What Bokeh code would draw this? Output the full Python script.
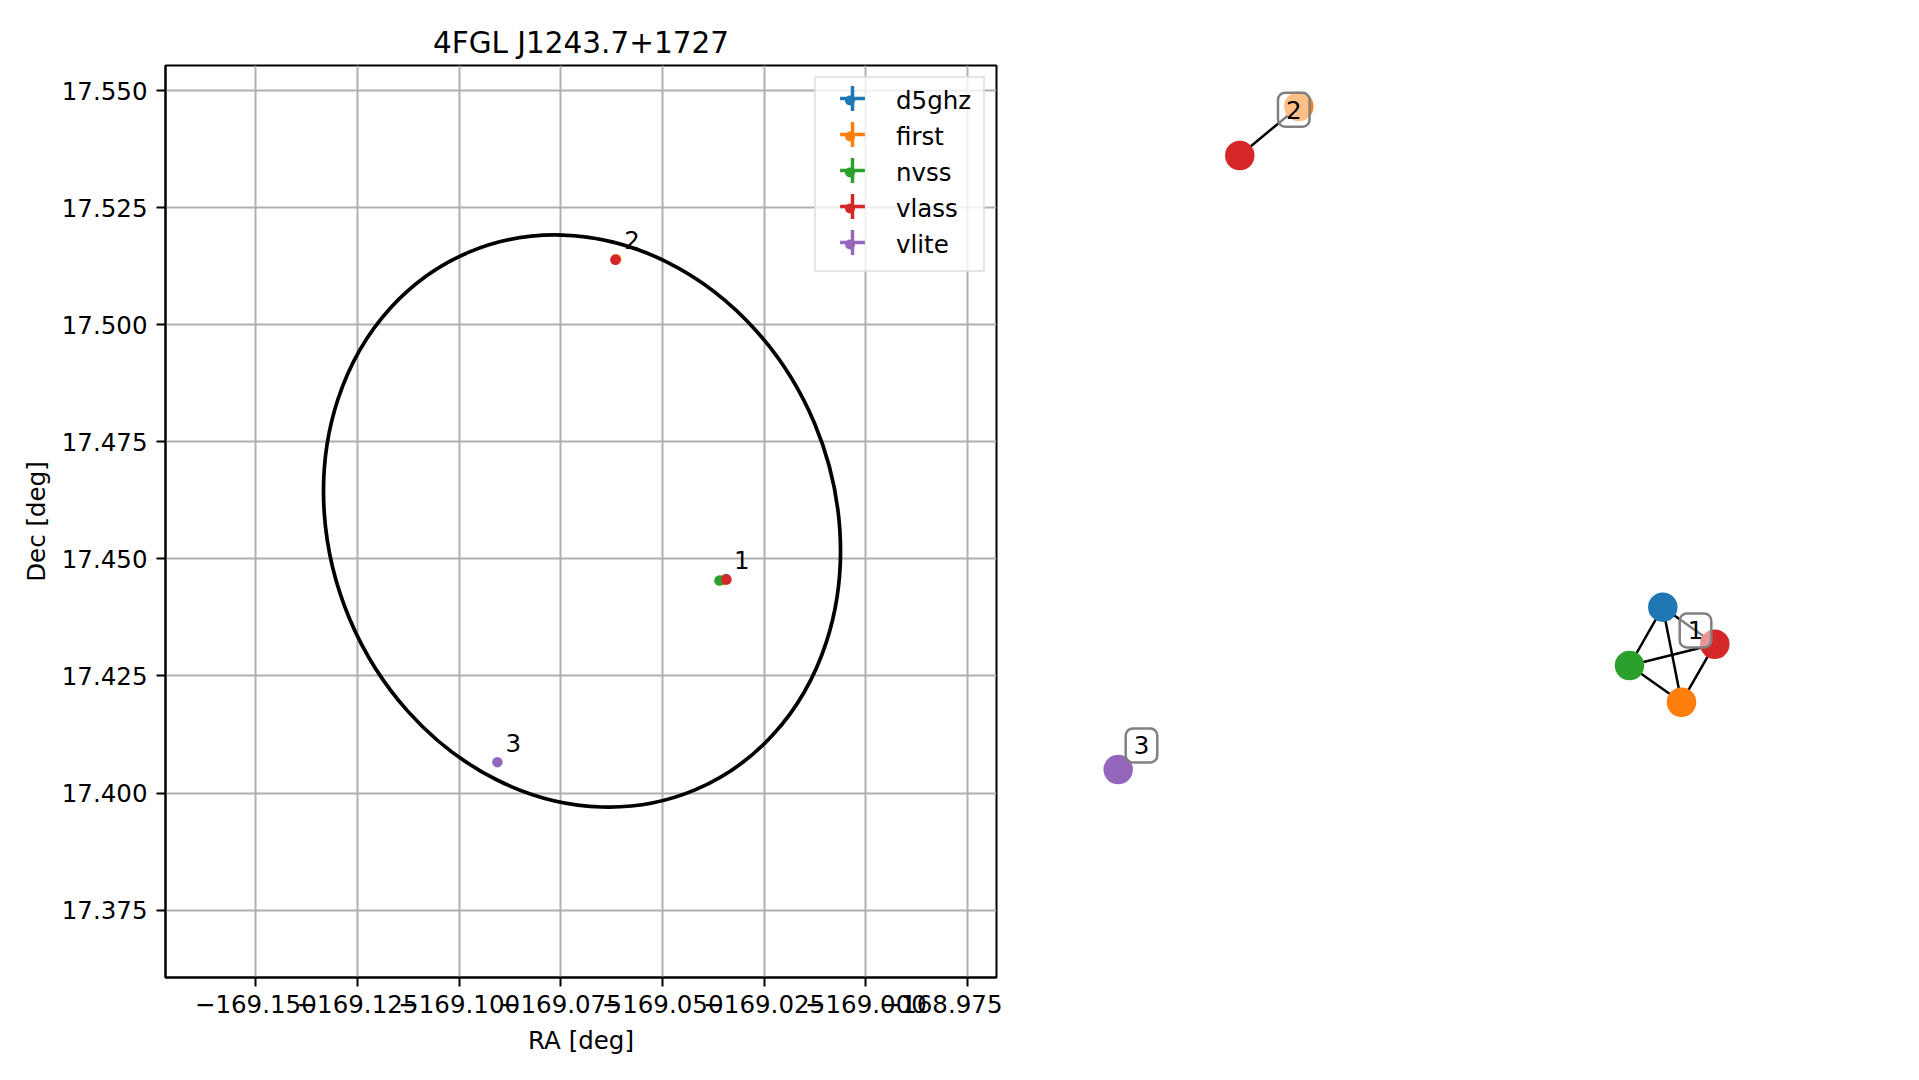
from bokeh.plotting import figure
from bokeh.layouts import row
from bokeh.models import ColumnDataSource, FixedTicker, Legend, LegendItem, Range1d
from bokeh.core.properties import value
from bokeh.embed import file_html
from bokeh.resources import INLINE

FONT = "DejaVu Sans"

title = "4FGL J1243.7+1727"
surveys = ["d5ghz", "first", "nvss", "vlass", "vlite"]
survey_colors = ["#1f77b4", "#ff7f0e", "#2ca02c", "#d62728", "#9467bd"]

# radio detections (RA, Dec in deg) and the association group they belong to
det_survey = ["d5ghz", "first", "nvss", "vlass", "first", "vlass", "vlite"]
det_group = ["1", "1", "1", "1", "2", "2", "3"]
det_ra = [-169.0344, -169.0350, -169.0360, -169.0343, -169.0614, -169.0616, -169.0906]
det_dec = [17.4457, 17.4455, 17.4454, 17.4456, 17.5140, 17.5139, 17.4066]

# Fermi-LAT 95% ellipse
ell_ra = [-169.0698]
ell_dec = [17.4581]
ell_width = [0.1240]
ell_height = [0.1246]
ell_angle = [22.8]

x_ticks = [-169.150, -169.125, -169.100, -169.075, -169.050, -169.025, -169.000, -168.975]
x_tick_labels = ["\u2212169.150", "\u2212169.125", "\u2212169.100", "\u2212169.075",
                 "\u2212169.050", "\u2212169.025", "\u2212169.000", "\u2212168.975"]
y_ticks = [17.375, 17.400, 17.425, 17.450, 17.475, 17.500, 17.525, 17.550]
y_tick_labels = ["17.375", "17.400", "17.425", "17.450", "17.475", "17.500", "17.525", "17.550"]
x_lim = (-169.1722, -168.9679)
y_lim = (17.3606, 17.5554)

# association network (layout coordinates)
node_survey = ["d5ghz", "vlass", "nvss", "first", "vlass", "first", "vlite"]
node_x = [0.5558, 0.6858, 0.4725, 0.6025, -0.5018, -0.3543, -0.8058]
node_y = [-0.1879, -0.2691, -0.3158, -0.3963, 0.8026, 0.9101, -0.5439]
edge_from = [0, 0, 0, 1, 1, 2, 4]
edge_to = [1, 2, 3, 2, 3, 3, 5]
net_labels = ["1", "2", "3"]
net_label_x = [0.6375, -0.3668, -0.7475]
net_label_y = [-0.2390, 0.9029, -0.4912]

color_of = dict(zip(surveys, survey_colors))

# ---------------- left panel ----------------
FRAME_L, FRAME_T, FRAME_W, FRAME_H = 165, 65, 831, 912
P1_W, P_H = 1002, 1064
p1 = figure(width=P1_W, height=P_H, x_range=Range1d(*x_lim), y_range=Range1d(*y_lim),
            output_backend="svg", toolbar_location=None, title=title,
            min_border_left=FRAME_L, min_border_right=P1_W - FRAME_L - FRAME_W,
            min_border_top=FRAME_T, min_border_bottom=P_H - FRAME_T - FRAME_H)
p1.background_fill_color = "white"
p1.border_fill_color = "white"
p1.outline_line_color = "black"
p1.outline_line_width = 2

p1.title.align = "center"
p1.title.text_font = FONT
p1.title.text_font_size = "29.5px"
p1.title.text_font_style = "normal"
p1.title.text_color = "black"
p1.title.standoff = 12

p1.xaxis.ticker = FixedTicker(ticks=x_ticks)
p1.yaxis.ticker = FixedTicker(ticks=y_ticks)
p1.xaxis.major_label_overrides = dict(zip(x_ticks, x_tick_labels))
p1.yaxis.major_label_overrides = dict(zip(y_ticks, y_tick_labels))
p1.xaxis.axis_label = "RA [deg]"
p1.yaxis.axis_label = "Dec [deg]"
for ax in (p1.xaxis[0], p1.yaxis[0]):
    ax.axis_label_text_font = FONT
    ax.axis_label_text_font_size = "24.5px"
    ax.axis_label_text_font_style = "normal"
    ax.axis_label_text_color = "black"
    ax.major_label_text_font = FONT
    ax.major_label_text_font_size = "24.5px"
    ax.major_label_text_color = "black"
    ax.major_tick_out = 9
    ax.major_tick_in = 0
    ax.major_tick_line_width = 2
    ax.major_tick_line_color = "black"
    ax.minor_tick_line_color = None
    ax.axis_line_color = "black"
    ax.axis_line_width = 2
p1.xaxis.major_label_standoff = 8
p1.yaxis.major_label_standoff = 9
p1.xaxis.axis_label_standoff = 10
p1.yaxis.axis_label_standoff = 8
p1.grid.grid_line_color = "#b0b0b0"
p1.grid.grid_line_width = 2

p1.ellipse(x=ell_ra, y=ell_dec, width=ell_width, height=ell_height, angle=ell_angle,
           angle_units="deg", fill_color=None, line_color="black", line_width=3.7)

dot_renderers = []
err_renderers = []
for s in surveys:
    idx = [i for i, v in enumerate(det_survey) if v == s]
    src = ColumnDataSource(dict(x=[det_ra[i] for i in idx], y=[det_dec[i] for i in idx]))
    err = p1.scatter("x", "y", source=src, marker="cross", size=5,
                     line_color=color_of[s], line_width=3.5)
    pt = p1.scatter("x", "y", source=src, marker="circle", size=10.5,
                    line_color=None, fill_color=color_of[s])
    err_renderers.append(err)
    dot_renderers.append(pt)

groups = []
for g in det_group:
    if g not in groups:
        groups.append(g)
anchor_x = [det_ra[det_group.index(g)] for g in groups]
anchor_y = [det_dec[det_group.index(g)] for g in groups]
p1.text(x=anchor_x, y=anchor_y, text=groups, x_offset=8, y_offset=-19,
        text_font=value(FONT), text_font_size="24.5px", text_align="left",
        text_baseline="alphabetic", text_color="black")

# legend: box, labels and marker dots
legend = Legend(items=[LegendItem(label=s, renderers=[r]) for s, r in zip(surveys, dot_renderers)],
                location="top_right", margin=11, glyph_width=25, glyph_height=36, spacing=0,
                label_standoff=34, label_width=80,
                padding=dict(left=21, right=7, top=4, bottom=8),
                label_text_font=FONT, label_text_font_size="24.5px", label_text_color="black",
                border_line_color="#cccccc", border_line_width=2,
                background_fill_color="white", background_fill_alpha=0.8)
p1.add_layout(legend)

# error-bar crosses of the legend entries (one small legend each, so they can be larger)
ROW0_Y, ROW_STEP, CROSS_BOX = 98, 36, 62
cross_x = FRAME_L + FRAME_W - 11 - 167 + 21 + 12.5
for i, r in enumerate(err_renderers):
    cy = ROW0_Y + ROW_STEP * i
    lg = Legend(items=[LegendItem(label=" ", renderers=[r])],
                location=(int(round(cross_x - FRAME_L - CROSS_BOX / 2)),
                          int(round(FRAME_T + FRAME_H - cy - CROSS_BOX / 2))),
                glyph_width=CROSS_BOX, glyph_height=CROSS_BOX, padding=0, margin=0,
                label_standoff=0, label_width=0, label_height=0,
                label_text_font_size="1px", border_line_color=None,
                background_fill_alpha=0)
    p1.add_layout(lg)

# ---------------- right panel (network) ----------------
P2_W = 1903 - P1_W
NET_L, NET_W = 1040 - P1_W, 800
p2 = figure(width=P2_W, height=P_H, x_range=Range1d(-1, 1), y_range=Range1d(-1, 1),
            output_backend="svg", toolbar_location=None, x_axis_type=None, y_axis_type=None,
            min_border_left=NET_L, min_border_right=P2_W - NET_L - NET_W,
            min_border_top=FRAME_T, min_border_bottom=P_H - FRAME_T - FRAME_H)
p2.grid.visible = False
p2.outline_line_color = None
p2.background_fill_color = "white"
p2.border_fill_color = "white"

p2.segment(x0=[node_x[i] for i in edge_from], y0=[node_y[i] for i in edge_from],
           x1=[node_x[i] for i in edge_to], y1=[node_y[i] for i in edge_to],
           line_color="black", line_width=2.5)
p2.scatter(x=node_x, y=node_y, size=29.5, marker="circle",
           fill_color=[color_of[s] for s in node_survey], line_color=None)
p2.text(x=net_label_x, y=net_label_y, text=net_labels, text_align="center",
        text_baseline="middle", text_font=value(FONT), text_font_size="24.5px",
        text_color="black", background_fill_color="white", background_fill_alpha=0.5,
        border_line_color="#808080", border_line_width=2.5, border_radius=7,
        padding=dict(left=8, right=8, top=8, bottom=8))

layout = row(p1, p2)
open("out.html", "w").write(file_html(layout, INLINE))
